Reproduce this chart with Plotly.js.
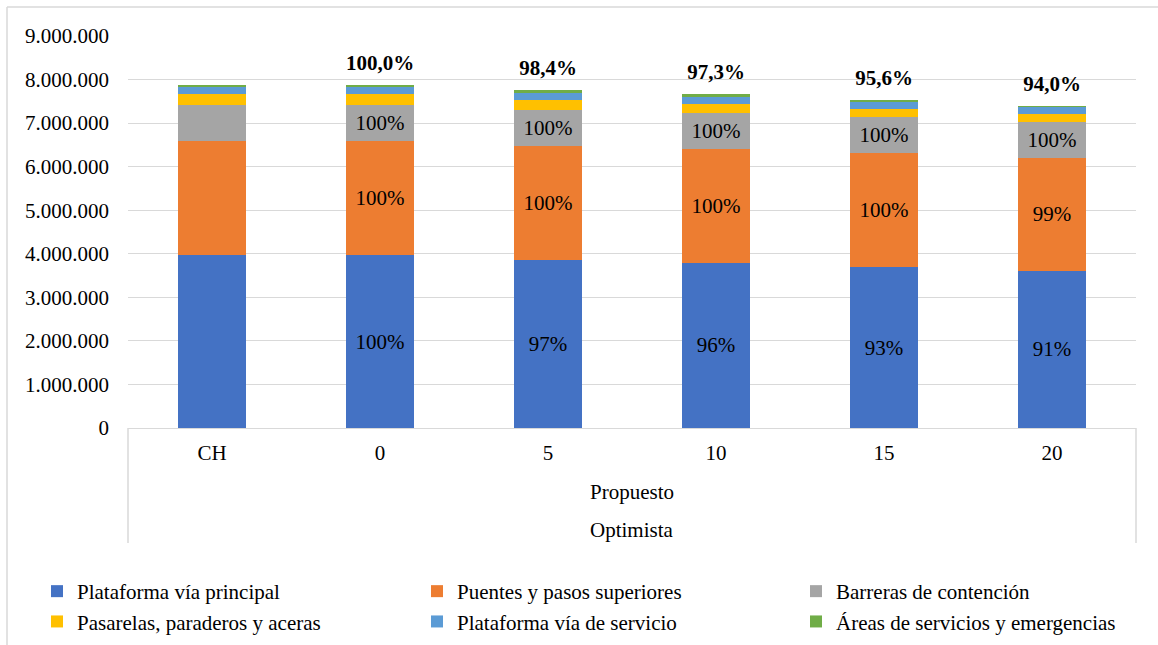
<!DOCTYPE html>
<html>
<head>
<meta charset="utf-8">
<script src="https://cdn.plot.ly/plotly-3.0.1.min.js"></script>
<style>html,body{margin:0;padding:0;background:#fff;}#chart{width:1158px;height:645px;}</style>
</head>
<body>
<div id="chart"></div>
<script>
// ---- data ----
const categories = ["CH", "0", "5", "10", "15", "20"];
const plataformaPrincipal = [3970000, 3970000, 3860000, 3790000, 3690000, 3610000];
const puentes            = [2620000, 2620000, 2620000, 2620000, 2620000, 2600000];
const barreras           = [ 825000,  825000,  820000,  820000,  820000,  820000];
const pasarelas          = [ 250000,  250000,  230000,  200000,  200000,  180000];
const plataformaServicio = [ 170000,  170000,  170000,  180000,  150000,  160000];
const areasServicios     = [  50000,   50000,   50000,   50000,   50000,   30000];

const pctPrincipal = ["", "100%", "97%", "96%", "93%", "91%"];
const pctPuentes   = ["", "100%", "100%", "100%", "100%", "99%"];
const pctBarreras  = ["", "100%", "100%", "100%", "100%", "100%"];
const pctTotal     = ["", "100,0%", "98,4%", "97,3%", "95,6%", "94,0%"];

const seriesNames = ["Plataforma vía principal", "Puentes y pasos superiores", "Barreras de contención",
                     "Pasarelas, paraderos y aceras", "Plataforma vía de servicio", "Áreas de servicios y emergencias"];
const colors = ["#4472C4", "#ED7D31", "#A5A5A5", "#FFC000", "#5B9BD5", "#70AD47"];

// ---- layout geometry ----
const W = 1158, H = 645;
const mL = 128, mR = 22, mT = 36, mB = 217;
const plotW = W - mL - mR, plotH = H - mT - mB;
const px = x => (x - mL) / plotW;          // container px -> paper x
const py = y => (H - mB - y) / plotH;      // container px -> paper y

const FONT = "Liberation Serif, Times New Roman, serif";
const FS = 21;

const seriesValues = [plataformaPrincipal, puentes, barreras, pasarelas, plataformaServicio, areasServicios];
const seriesText = [pctPrincipal, pctPuentes, pctBarreras, null, null, null];
const legendIds = ["legend", "legend2", "legend3", "legend", "legend2", "legend3"];

const traces = seriesValues.map((vals, i) => ({
  type: "bar",
  name: seriesNames[i],
  x: categories,
  y: vals,
  marker: {color: colors[i], line: {width: 0}},
  text: seriesText[i] || undefined,
  textposition: seriesText[i] ? "inside" : "none",
  insidetextanchor: "middle",
  textangle: 0,
  constraintext: "none",
  textfont: {family: FONT, size: FS, color: "#000"},
  hoverinfo: "skip",
  legend: legendIds[i],
  width: 0.405
}));

const totals = categories.map((c, k) => seriesValues.reduce((s, arr) => s + arr[k], 0));
traces.push({
  type: "scatter",
  mode: "markers+text",
  x: categories,
  y: totals,
  marker: {size: 14, opacity: 0, color: "#fff"},
  text: pctTotal.map(t => t ? "<b>" + t + "</b>" : ""),
  textposition: "top center",
  textfont: {family: FONT, size: FS, color: "#000"},
  showlegend: false,
  hoverinfo: "skip",
  cliponaxis: false
});

const legendBase = {
  orientation: "v",
  xref: "container", yref: "container",
  xanchor: "left", yanchor: "top",
  y: 1 - 571 / H,
  bgcolor: "rgba(0,0,0,0)",
  borderwidth: 0,
  font: {family: FONT, size: FS, color: "#000"},
  traceorder: "normal",
  itemwidth: 30,
  itemclick: false, itemdoubleclick: false,
  tracegroupgap: 0
};

const layout = {
  width: W, height: H,
  margin: {l: mL, r: mR, t: mT, b: mB, pad: 0, autoexpand: false},
  paper_bgcolor: "#fff",
  plot_bgcolor: "#fff",
  separators: ",.",
  barmode: "stack",
  font: {family: FONT, size: FS, color: "#000"},
  xaxis: {
    type: "category",
    tickfont: {family: FONT, size: FS, color: "#000"},
    showgrid: false,
    showline: true, linecolor: "#d9d9d9", linewidth: 1,
    ticks: "", ticklen: 0,
    ticklabelstandoff: 6,
    zeroline: false,
    automargin: false,
    fixedrange: true
  },
  yaxis: {
    range: [0, 9000000],
    dtick: 1000000,
    tick0: 0,
    tickformat: ",d",
    tickfont: {family: FONT, size: FS, color: "#000"},
    showgrid: true, gridcolor: "#d9d9d9", gridwidth: 1,
    zeroline: false,
    showline: false,
    ticks: "",
    ticklabelstandoff: 18,
    automargin: false,
    fixedrange: true
  },
  showlegend: true,
  legend: Object.assign({}, legendBase, {x: 37 / W}),
  legend2: Object.assign({}, legendBase, {x: 417 / W}),
  legend3: Object.assign({}, legendBase, {x: 796 / W}),
  annotations: [
    {text: "Propuesto", xref: "paper", yref: "paper", x: 0.5, y: py(492), showarrow: false,
     font: {family: FONT, size: FS, color: "#000"}, xanchor: "center", yanchor: "middle"},
    {text: "Optimista", xref: "paper", yref: "paper", x: 0.5, y: py(530), showarrow: false,
     font: {family: FONT, size: FS, color: "#000"}, xanchor: "center", yanchor: "middle"}
  ],
  shapes: [
    // category axis dividers
    {type: "line", xref: "paper", yref: "paper", x0: 0, x1: 0, y0: 0, y1: py(543), line: {color: "#d9d9d9", width: 1.5}},
    {type: "line", xref: "paper", yref: "paper", x0: 1, x1: 1, y0: 0, y1: py(543), line: {color: "#d9d9d9", width: 1.5}},
    // chart area border (top and left visible)
    {type: "line", xref: "paper", yref: "paper", x0: px(7), x1: px(1160), y0: py(7), y1: py(7), line: {color: "#d9d9d9", width: 1.5}},
    {type: "line", xref: "paper", yref: "paper", x0: px(7), x1: px(7), y0: py(7), y1: py(648), line: {color: "#d9d9d9", width: 1.5}}
  ]
};

Plotly.newPlot("chart", traces, layout, {displayModeBar: false, staticPlot: true});
</script>
</body>
</html>
